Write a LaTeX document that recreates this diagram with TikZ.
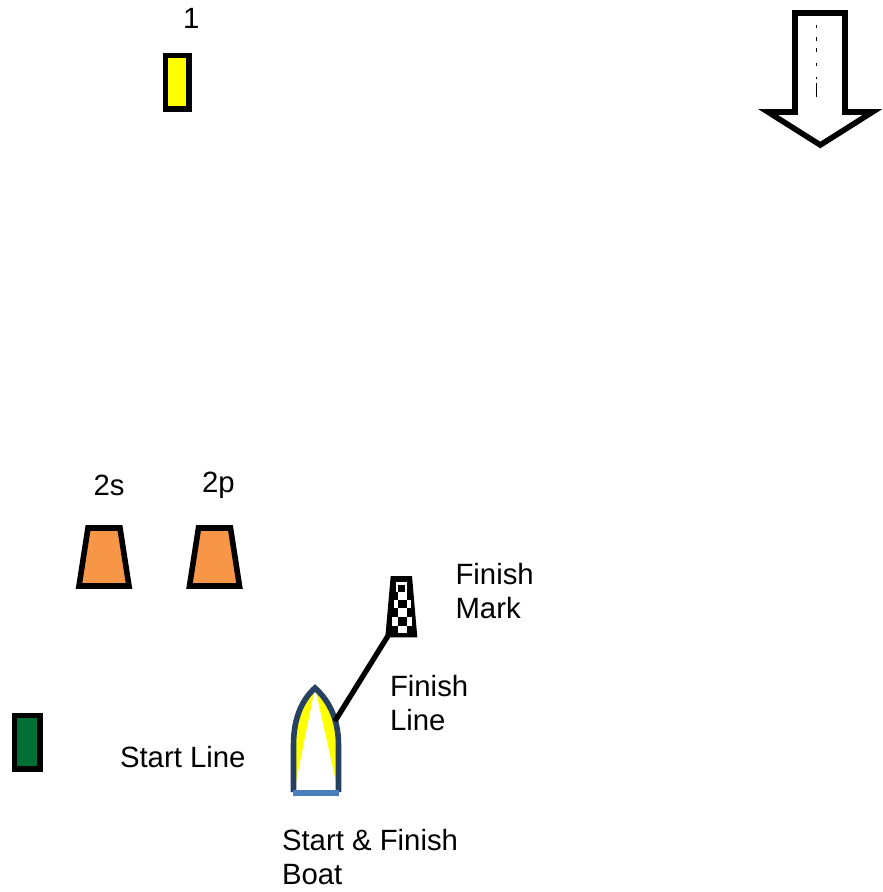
\documentclass[tikz,border=0pt]{standalone}
\usepackage{fontspec}
\setmainfont{Liberation Sans}
\definecolor{navy}{HTML}{254061}
\definecolor{blueb}{HTML}{4A7EBB}
\definecolor{orng}{HTML}{F79646}
\definecolor{grn}{HTML}{006F35}
\definecolor{ylw}{RGB}{255,255,0}
\tikzset{
  x=0.75pt,y=-0.75pt,
  buoy/.style={draw=black,line width=4.2pt,miter limit=10},
  lbl/.style={inner sep=0pt,outer sep=0pt,align=left,anchor=north west,font=\fontsize{22}{25.5}\selectfont}
}
\begin{document}
\begin{tikzpicture}
\useasboundingbox (0,0) rectangle (882,892);
% marks
\draw[buoy,fill=ylw] (165.5,55.5) rectangle (189,109);
\draw[buoy,fill=grn] (14.5,715.5) rectangle (40,768.7);
\draw[buoy,fill=orng] (88,528) -- (120,528) -- (129,586) -- (79,586) -- cycle;
\draw[buoy,fill=orng] (198.5,528) -- (230.5,528) -- (239.5,586) -- (189.5,586) -- cycle;
% wind arrow
\draw[line width=4.2pt,miter limit=10,fill=white] (795,13) -- (845,13) -- (845,112) -- (872.5,112) -- (820.3,145) -- (768,112) -- (795,112) -- cycle;
\draw[line width=0.8pt,dash pattern=on 2.25pt off 6.75pt on 3pt off 5.25pt on 3pt off 8.25pt on 2.25pt off 8.25pt on 1.5pt off 3pt on 10.5pt off 100pt] (816.8,25) -- (816.8,97);
% labels
\node[lbl] (one) at (183,8) {1};
\node[lbl] (twos) at (93.5,475) {2s};
\node[lbl] (twop) at (202,472.5) {2p};
\node[lbl] (fm) at (455.5,563) {Finish\\Mark};
\node[lbl] (fl) at (390,675) {Finish\\Line};
\node[lbl] (sl) at (120,746) {Start Line};
\node[lbl] (sf) at (282,829) {Start \& Finish\\Boat};
% finish flag
\fill[black] (390.7,576) -- (412,576) -- (417.3,637.3) -- (385.3,637.3) -- cycle;
\fill[white] (396,582) rectangle (407,592);
\fill[black] (398.3,584.5) rectangle (405,592);
\foreach \xa/\xb/\ya/\yb in {398/406.5/592/600, 393.5/398/600/608, 406.5/411/600/608, 398/406.5/608/617, 391.5/398/617/626, 406.5/412/617/626, 398/406.5/626/632.5}{
  \fill[white] (\xa,\ya) rectangle (\xb,\yb);}
% boat
\fill[ylw] (315,688) .. controls (326,698) and (338,712) .. (338,745) -- (338,792) -- (294,792) -- (294,745) .. controls (294,712) and (304,698) .. (315,688) -- cycle;
\fill[white] (315,688) -- (336,782) -- (336,792) -- (296,792) -- (296,782) -- cycle;
\draw[navy,line width=4.2pt] (293.5,792) -- (293.5,745) .. controls (293.5,715) and (304,698) .. (315,688) .. controls (326,698) and (338.5,715) .. (338.5,745) -- (338.5,792);
\draw[blueb,line width=4.2pt] (292.7,793) -- (339,793);
% finish line
\coordinate (hullp) at (335,721);
\coordinate (markp) at (388.5,635);
\draw[line width=4pt] (hullp) -- (markp);
\end{tikzpicture}
\end{document}
